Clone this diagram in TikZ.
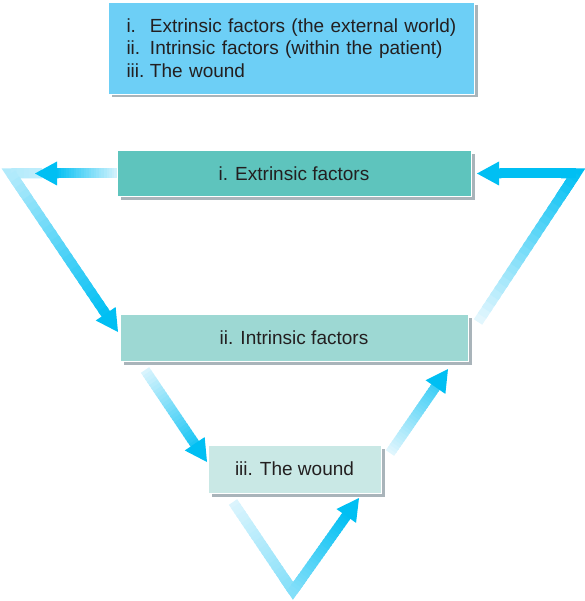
\documentclass[tikz,border=0pt]{standalone}
\usepackage{fontspec}
\setmainfont{Liberation Sans}
\usetikzlibrary{calc,shadows}
\definecolor{legendfill}{HTML}{6DCFF6}
\definecolor{extfill}{HTML}{5EC4BD}
\definecolor{intrfill}{HTML}{9DD8D3}
\definecolor{woundfill}{HTML}{C9E8E5}
\definecolor{shadowc}{HTML}{A9B4BA}
\definecolor{textc}{HTML}{231F20}
\definecolor{arrowdark}{HTML}{00BFF3}
\definecolor{arrowlight}{HTML}{EEF9FE}
\tikzset{
  band/.style={line width=10pt, line cap=butt},
  boxbase/.style={draw=white, line width=0.8pt,
    drop shadow={shadow xshift=3.5pt, shadow yshift=-3.5pt, fill=shadowc, opacity=1},
    inner sep=0pt, text=textc, font=\fontsize{19}{22.5}\selectfont},
}
\newcommand\gradband[4]{%
  \foreach \k in {0,...,23}{%
    \pgfmathsetmacro\ta{\k/24}%
    \pgfmathsetmacro\tb{min((\k+1.5)/24,1)}%
    \pgfmathtruncatemacro\pc{#3+(#4-(#3))*(\k+0.5)/24}%
    \draw[band, draw=arrowdark!\pc!arrowlight] ($(#1)!\ta!(#2)$) -- ($(#1)!\tb!(#2)$);
  }}
\newcommand\arrowtip[2]{%
  \coordinate (hb) at ($(#1)!22pt!(#2)$);
  \fill[arrowdark] (#1) -- ($(hb)!12pt!90:(#1)$) -- ($(hb)!12pt!-90:(#1)$) -- cycle;}
\begin{document}
\begin{tikzpicture}[x=1pt,y=-1pt]
\useasboundingbox (0,0) rectangle (584,601);
% boxes
\node[boxbase, fill=legendfill, minimum width=366pt, minimum height=92pt,
  text width=330pt, align=left] (legend) at (291.5,48)
  {\makebox[23.5pt][l]{i.}Extrinsic factors (the external world)\\
   \makebox[23.5pt][l]{ii.}Intrinsic factors (within the patient)\\
   \makebox[23.5pt][l]{iii.}The wound};
\node[boxbase, fill=extfill, minimum width=354pt, minimum height=46pt] (ext) at (294,173.5) {i. Extrinsic factors};
\node[boxbase, fill=intrfill, minimum width=348pt, minimum height=47pt] (intr) at (294,337.5) {ii. Intrinsic factors};
\node[boxbase, fill=woundfill, minimum width=173pt, minimum height=48pt] (wound) at (294.5,469) {iii. The wound};
% coordinates
\coordinate (t1) at (35,173.5);
\coordinate (s2) at (42,173.5);
\coordinate (c2) at (11,173.5);
\coordinate (t2) at (118,332);
\coordinate (s3) at (145,370);
\coordinate (t3) at (207,462);
\coordinate (s4) at (390,453);
\coordinate (t4) at (448,369);
\coordinate (s5) at (233,502);
\coordinate (v5) at (293,591);
\coordinate (t5) at (359,498);
\coordinate (s6) at (478,322);
\coordinate (c6) at (576,173.5);
\coordinate (t6) at (477,173.5);
% arrow 2: corner to intrinsic
\coordinate (b2) at ($(t2)!21pt!(c2)$);
\draw[band, line join=miter, draw=arrowdark!25!arrowlight] (s2) -- (c2) -- ($(c2)!0.15!(t2)$);
\gradband{s2}{c2}{20}{25}
\gradband{c2}{b2}{25}{100}
\arrowtip{t2}{c2}
% arrow 1: extrinsic to left
\coordinate (b1) at ($(t1)!21pt!(ext.west)$);
\gradband{ext.west}{b1}{12}{100}
\arrowtip{t1}{ext.west}
% arrow 3: intrinsic to wound
\coordinate (b3) at ($(t3)!21pt!(s3)$);
\gradband{s3}{b3}{8}{90}
\arrowtip{t3}{s3}
% arrow 4: wound to intrinsic
\coordinate (b4) at ($(t4)!21pt!(s4)$);
\gradband{s4}{b4}{5}{75}
\arrowtip{t4}{s4}
% arrow 5: wound loop
\coordinate (b5) at ($(t5)!21pt!(v5)$);
\draw[band, line join=miter, draw=arrowdark!45!arrowlight] ($(v5)!0.15!(s5)$) -- (v5) -- ($(v5)!0.15!(t5)$);
\gradband{s5}{v5}{8}{45}
\gradband{v5}{b5}{45}{100}
\arrowtip{t5}{v5}
% arrow 6: intrinsic up to extrinsic
\coordinate (b6) at ($(t6)!21pt!(c6)$);
\draw[band, line join=miter, draw=arrowdark] ($(c6)!0.15!(s6)$) -- (c6) -- ($(c6)!0.15!(t6)$);
\gradband{s6}{c6}{3}{100}
\gradband{c6}{b6}{100}{100}
\arrowtip{t6}{c6}
\end{tikzpicture}
\end{document}
